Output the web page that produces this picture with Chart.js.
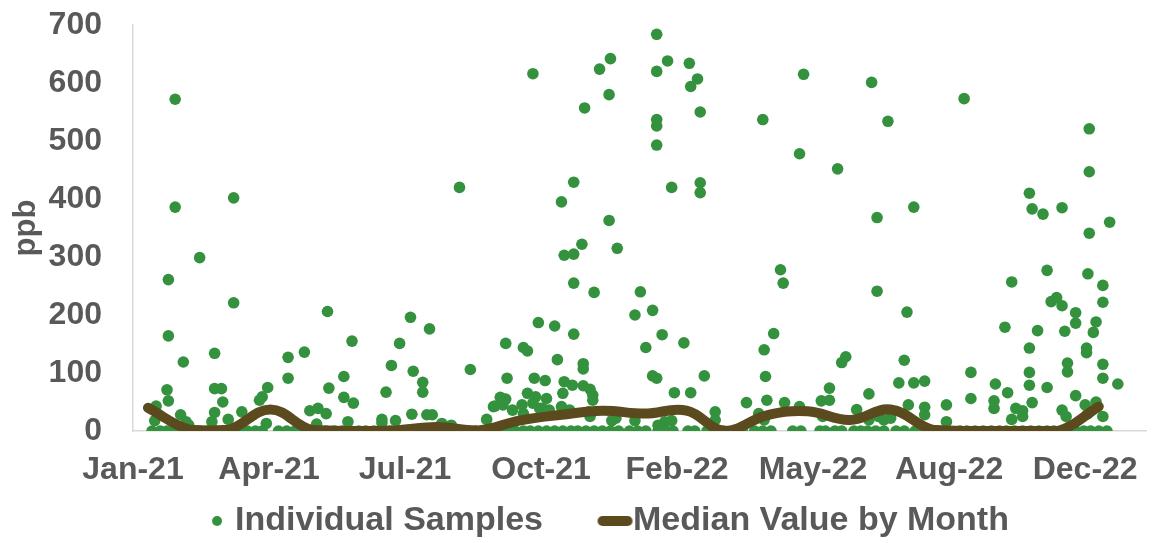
<!DOCTYPE html>
<html>
<head>
<meta charset="utf-8">
<script src="https://cdn.jsdelivr.net/npm/chart.js@4.4.1/dist/chart.umd.min.js"></script>
<style>
  html, body { margin: 0; background: #fff; }
  #wrap { width: 1158px; height: 543px; }
</style>
</head>
<body>
<div id="wrap"><canvas id="chart"></canvas></div>
<script>
// sample dates / values (one line per month)
const sampleDates = [
  '2021-01-18','2021-01-20','2021-01-21','2021-01-24','2021-01-29','2021-01-29','2021-01-30','2021-01-30','2021-01-30',
  '2021-02-04','2021-02-04','2021-02-04','2021-02-08','2021-02-10','2021-02-10','2021-02-12','2021-02-14','2021-02-16','2021-02-22','2021-02-22','2021-02-28',
  '2021-03-03','2021-03-05','2021-03-05','2021-03-05','2021-03-06','2021-03-10','2021-03-11','2021-03-15','2021-03-17','2021-03-19','2021-03-19','2021-03-23','2021-03-25','2021-03-29',
  '2021-04-04','2021-04-07','2021-04-09','2021-04-09','2021-04-12','2021-04-13','2021-04-21','2021-04-27','2021-04-28','2021-04-28',
  '2021-05-03','2021-05-09','2021-05-10','2021-05-14','2021-05-15','2021-05-19','2021-05-20','2021-05-20','2021-05-26','2021-05-26','2021-05-27','2021-05-28',
  '2021-06-01','2021-06-07','2021-06-08','2021-06-08','2021-06-11','2021-06-13','2021-06-14','2021-06-15','2021-06-19','2021-06-24','2021-06-30',
  '2021-07-06','2021-07-06','2021-07-06','2021-07-09','2021-07-12','2021-07-13','2021-07-16','2021-07-18','2021-07-19','2021-07-24','2021-07-27','2021-07-28','2021-07-29','2021-07-29',
  '2021-08-04','2021-08-05','2021-08-05','2021-08-08','2021-08-10','2021-08-10','2021-08-12','2021-08-16','2021-08-19','2021-08-22','2021-08-26',
  '2021-09-01','2021-09-01','2021-09-07','2021-09-09','2021-09-13','2021-09-18','2021-09-21','2021-09-24','2021-09-26','2021-09-27','2021-09-30',
  '2021-10-01','2021-10-03','2021-10-05','2021-10-05','2021-10-06','2021-10-06','2021-10-10','2021-10-12','2021-10-17','2021-10-18','2021-10-18','2021-10-18','2021-10-21','2021-10-21','2021-10-23','2021-10-25','2021-10-25','2021-10-26','2021-10-27','2021-10-29','2021-10-29','2021-10-30',
  '2021-11-01','2021-11-03','2021-11-04','2021-11-04','2021-11-06','2021-11-10','2021-11-10','2021-11-12','2021-11-15','2021-11-15','2021-11-16','2021-11-16','2021-11-17','2021-11-17','2021-11-21','2021-11-22','2021-11-23','2021-11-24','2021-11-24','2021-11-24','2021-11-24','2021-11-27','2021-11-30',
  '2021-12-01','2021-12-01','2021-12-01','2021-12-02','2021-12-03','2021-12-05','2021-12-06','2021-12-06','2021-12-08','2021-12-08','2021-12-09','2021-12-09','2021-12-13','2021-12-15','2021-12-20','2021-12-20','2021-12-21','2021-12-21','2021-12-22','2021-12-25','2021-12-26','2021-12-27',
  '2022-01-04','2022-01-08','2022-01-08','2022-01-10','2022-01-12','2022-01-16','2022-01-16','2022-01-21','2022-01-21','2022-01-24','2022-01-24','2022-01-24','2022-01-24','2022-01-24','2022-01-24','2022-01-25','2022-01-25','2022-01-28','2022-01-30','2022-01-31',
  '2022-02-01','2022-02-04','2022-02-04','2022-02-05','2022-02-06','2022-02-13','2022-02-16','2022-02-17','2022-02-18','2022-02-18','2022-02-21','2022-02-23','2022-02-25','2022-02-25','2022-02-25','2022-02-28',
  '2022-03-02','2022-03-08','2022-03-08','2022-03-08','2022-03-14','2022-03-23','2022-03-28','2022-03-31',
  '2022-04-06','2022-04-09','2022-04-12','2022-04-12','2022-04-13','2022-04-13','2022-04-14','2022-04-15','2022-04-18','2022-04-20','2022-04-25','2022-04-27','2022-04-28',
  '2022-05-04','2022-05-09','2022-05-09','2022-05-10','2022-05-12','2022-05-24','2022-05-25','2022-05-26','2022-05-28','2022-05-31','2022-05-31',
  '2022-06-04','2022-06-06','2022-06-09','2022-06-09','2022-06-12','2022-06-18','2022-06-20','2022-06-23','2022-06-28','2022-06-29','2022-06-29',
  '2022-07-01','2022-07-04','2022-07-05','2022-07-05','2022-07-06','2022-07-10','2022-07-10','2022-07-13','2022-07-15','2022-07-19','2022-07-21','2022-07-25','2022-07-25','2022-07-27','2022-07-28',
  '2022-08-01','2022-08-01','2022-08-02','2022-08-08','2022-08-09','2022-08-09','2022-08-09','2022-08-14','2022-08-20','2022-08-25','2022-08-25','2022-08-26',
  '2022-09-04','2022-09-07','2022-09-09','2022-09-12','2022-09-12','2022-09-15','2022-09-21','2022-09-27','2022-09-29','2022-09-29','2022-09-30',
  '2022-10-03','2022-10-07','2022-10-08','2022-10-09','2022-10-12','2022-10-12','2022-10-14','2022-10-15','2022-10-20','2022-10-20','2022-10-20','2022-10-25','2022-10-25','2022-10-25','2022-10-25','2022-10-26','2022-10-27','2022-10-27','2022-10-31',
  '2022-11-01','2022-11-04','2022-11-07','2022-11-07','2022-11-07','2022-11-10','2022-11-12','2022-11-14','2022-11-18','2022-11-18','2022-11-18','2022-11-20','2022-11-21','2022-11-22','2022-11-22','2022-11-22','2022-11-28','2022-11-28','2022-11-28','2022-11-28',
  '2022-12-04','2022-12-05','2022-12-06','2022-12-06','2022-12-07','2022-12-07','2022-12-08','2022-12-08','2022-12-08','2022-12-09','2022-12-11','2022-12-13','2022-12-13','2022-12-15','2022-12-18','2022-12-18','2022-12-18','2022-12-18','2022-12-18','2022-12-21','2022-12-23','2022-12-29'
];
const sampleValues = [
  0, 18, 43, 0, 0, 71, 261, 164, 52,
  572, 386, 0, 28, 119, 0, 16, 10, 0, 299, 0, 0,
  16, 134, 73, 32, 0, 73, 50, 20, 0, 402, 221, 0, 33, 0,
  0, 53, 59, 0, 13, 75, 0, 0, 127, 91,
  0, 0, 136, 35, 0, 12, 39, 0, 30, 0, 206, 74,
  0, 0, 94, 58, 16, 0, 155, 48, 0, 0, 0,
  0, 20, 14, 67, 0, 113, 18, 0, 151, 0, 196, 29, 103, 0,
  0, 84, 67, 28, 176, 0, 28, 0, 13, 0, 10,
  420, 0, 0, 106, 0, 0, 20, 0, 42, 43, 0,
  58, 45, 151, 55, 91, 0, 36, 0, 45, 144, 30, 0, 65, 138, 0, 616, 48, 91, 59, 187, 0, 39,
  39, 87, 56, 0, 36, 181, 0, 123, 395, 42, 65, 0, 85, 303, 36, 0, 79, 429, 255, 167, 305, 0, 322,
  116, 107, 78, 557, 0, 33, 72, 25, 62, 53, 239, 0, 624, 0, 580, 363, 642, 0, 18, 22, 315, 0,
  0, 200, 18, 0, 240, 144, 0, 208, 95, 684, 620, 537, 526, 493, 91, 10, 0, 166, 16, 0,
  638, 420, 18, 0, 66, 152, 0, 634, 594, 66, 0, 607, 550, 428, 411, 95,
  0, 33, 19, 0, 0, 0, 0, 49,
  0, 30, 537, 0, 140, 19, 94, 53, 0, 168, 278, 255, 49,
  0, 478, 42, 0, 615, 0, 52, 25, 0, 74, 53,
  0, 452, 118, 0, 128, 0, 37, 0, 0, 64, 19,
  601, 0, 368, 241, 25, 19, 0, 534, 22, 0, 83, 122, 0, 205, 45,
  83, 386, 0, 0, 86, 41, 28, 0, 0, 45, 16, 0,
  0, 573, 0, 101, 56, 0, 0, 0, 52, 39, 81,
  0, 179, 0, 66, 257, 20, 0, 39, 35, 25, 0, 410, 143, 101, 79, 0, 383, 49, 173,
  0, 374, 277, 75, 0, 223, 0, 230, 385, 216, 36, 172, 25, 117, 102, 0, 204, 186, 61, 0,
  0, 45, 143, 135, 30, 271, 521, 447, 341, 0, 170, 50, 188, 0, 25, 251, 222, 115, 91, 0, 360, 81
];

// monthly medians, plotted mid-month
const medianDates = [
  '2021-01-15','2021-02-15','2021-03-15','2021-04-15','2021-05-15','2021-06-15',
  '2021-07-15','2021-08-15','2021-09-15','2021-10-15','2021-11-15','2021-12-15',
  '2022-01-15','2022-02-15','2022-03-15','2022-04-15','2022-05-15','2022-06-15',
  '2022-07-15','2022-08-15','2022-09-15','2022-10-15','2022-11-15','2022-12-15'
];
const medianValues = [40, 2, 2, 37, 2, 0, 1, 7, 1, 18, 28, 35, 30, 35, 0, 27, 34, 19, 37, 2, 0, 0, 0, 42];

// x axis labels (every 100 days, like the original sheet)
const tickDates = ['2021-01-04','2021-04-14','2021-07-23','2021-10-31','2022-02-08','2022-05-19','2022-08-27','2022-12-05'];
const tickLabels = ['Jan-21','Apr-21','Jul-21','Oct-21','Feb-22','May-22','Aug-22','Dec-22'];

const GREEN = '#34923e';
const BROWN = '#5c4a1f';
const TEXT = '#595959';
const FONT = '"Liberation Sans", Arial, sans-serif';

// excel style day serial
function toSerial(s) {
  const [y, m, d] = s.split('-').map(Number);
  return Date.UTC(y, m - 1, d) / 86400000 + 25569;
}

function legendIcon(width, draw) {
  const c = document.createElement('canvas');
  c.width = width;
  c.height = 12;
  draw(c.getContext('2d'));
  return c;
}
const dotIcon = legendIcon(81, g => {
  g.fillStyle = GREEN;
  g.beginPath();
  g.arc(75, 6, 5, 0, Math.PI * 2);
  g.fill();
});
const lineIcon = legendIcon(106, g => {
  g.strokeStyle = BROWN;
  g.lineWidth = 10;
  g.lineCap = 'round';
  g.beginPath();
  g.moveTo(75, 6);
  g.lineTo(100, 6);
  g.stroke();
});

const samplePoints = sampleDates.map((d, i) => ({ x: toSerial(d), y: sampleValues[i] }));
const medianPoints = medianDates.map((d, i) => ({ x: toSerial(d), y: medianValues[i] }));

new Chart(document.getElementById('chart'), {
  type: 'scatter',
  data: {
    datasets: [
      {
        type: 'line',
        label: 'Median Value by Month',
        data: medianPoints,
        borderColor: BROWN,
        borderWidth: 10,
        borderCapStyle: 'round',
        borderJoinStyle: 'round',
        pointRadius: 0,
        tension: 0.4,
        fill: false,
        order: 0
      },
      {
        label: 'Individual Samples',
        data: samplePoints,
        backgroundColor: GREEN,
        borderWidth: 0,
        pointRadius: 5.8,
        order: 1
      }
    ]
  },
  options: {
    responsive: true,
    maintainAspectRatio: false,
    animation: false,
    layout: { padding: { top: 25, right: 2, bottom: -5, left: 0 } },
    plugins: {
      tooltip: { enabled: false },
      legend: {
        position: 'bottom',
        labels: {
          usePointStyle: true,
          pointStyleWidth: 71,
          padding: 2,
          color: TEXT,
          font: { family: FONT, size: 34, weight: 'bold' },
          generateLabels: () => [
            { text: 'Individual Samples', pointStyle: dotIcon, fillStyle: GREEN, strokeStyle: GREEN, lineWidth: 0, hidden: false, datasetIndex: 1, fontColor: TEXT },
            { text: 'Median Value by Month', pointStyle: lineIcon, fillStyle: BROWN, strokeStyle: BROWN, lineWidth: 0, hidden: false, datasetIndex: 0, fontColor: TEXT }
          ]
        }
      }
    },
    scales: {
      x: {
        type: 'linear',
        min: toSerial('2021-01-04'),
        max: toSerial('2023-01-19'),
        grid: { display: false, drawTicks: false },
        border: { display: true, color: '#d9d9d9', width: 1.5 },
        afterBuildTicks: scale => {
          scale.ticks = tickDates.map(d => ({ value: toSerial(d) }));
        },
        afterFit: scale => { scale.height = 71; },
        ticks: {
          padding: 20,
          maxRotation: 0,
          autoSkip: false,
          color: TEXT,
          font: { family: FONT, size: 32, weight: 'bold' },
          callback: (value, index) => tickLabels[index]
        }
      },
      y: {
        min: 0,
        max: 700,
        grid: { display: false, drawTicks: false },
        border: { display: true, color: '#d9d9d9', width: 1.5 },
        afterFit: scale => {
          scale.width = 133;
          // tick padding would otherwise push the plot top down
          scale.paddingTop = 0;
          scale.paddingBottom = 0;
        },
        title: {
          display: true,
          text: 'ppb',
          color: TEXT,
          padding: { top: 8, bottom: 0 },
          font: { family: FONT, size: 31, weight: 'bold' }
        },
        ticks: {
          stepSize: 100,
          padding: 31,
          color: TEXT,
          font: { family: FONT, size: 32, weight: 'bold' }
        }
      }
    }
  }
});
</script>
</body>
</html>
